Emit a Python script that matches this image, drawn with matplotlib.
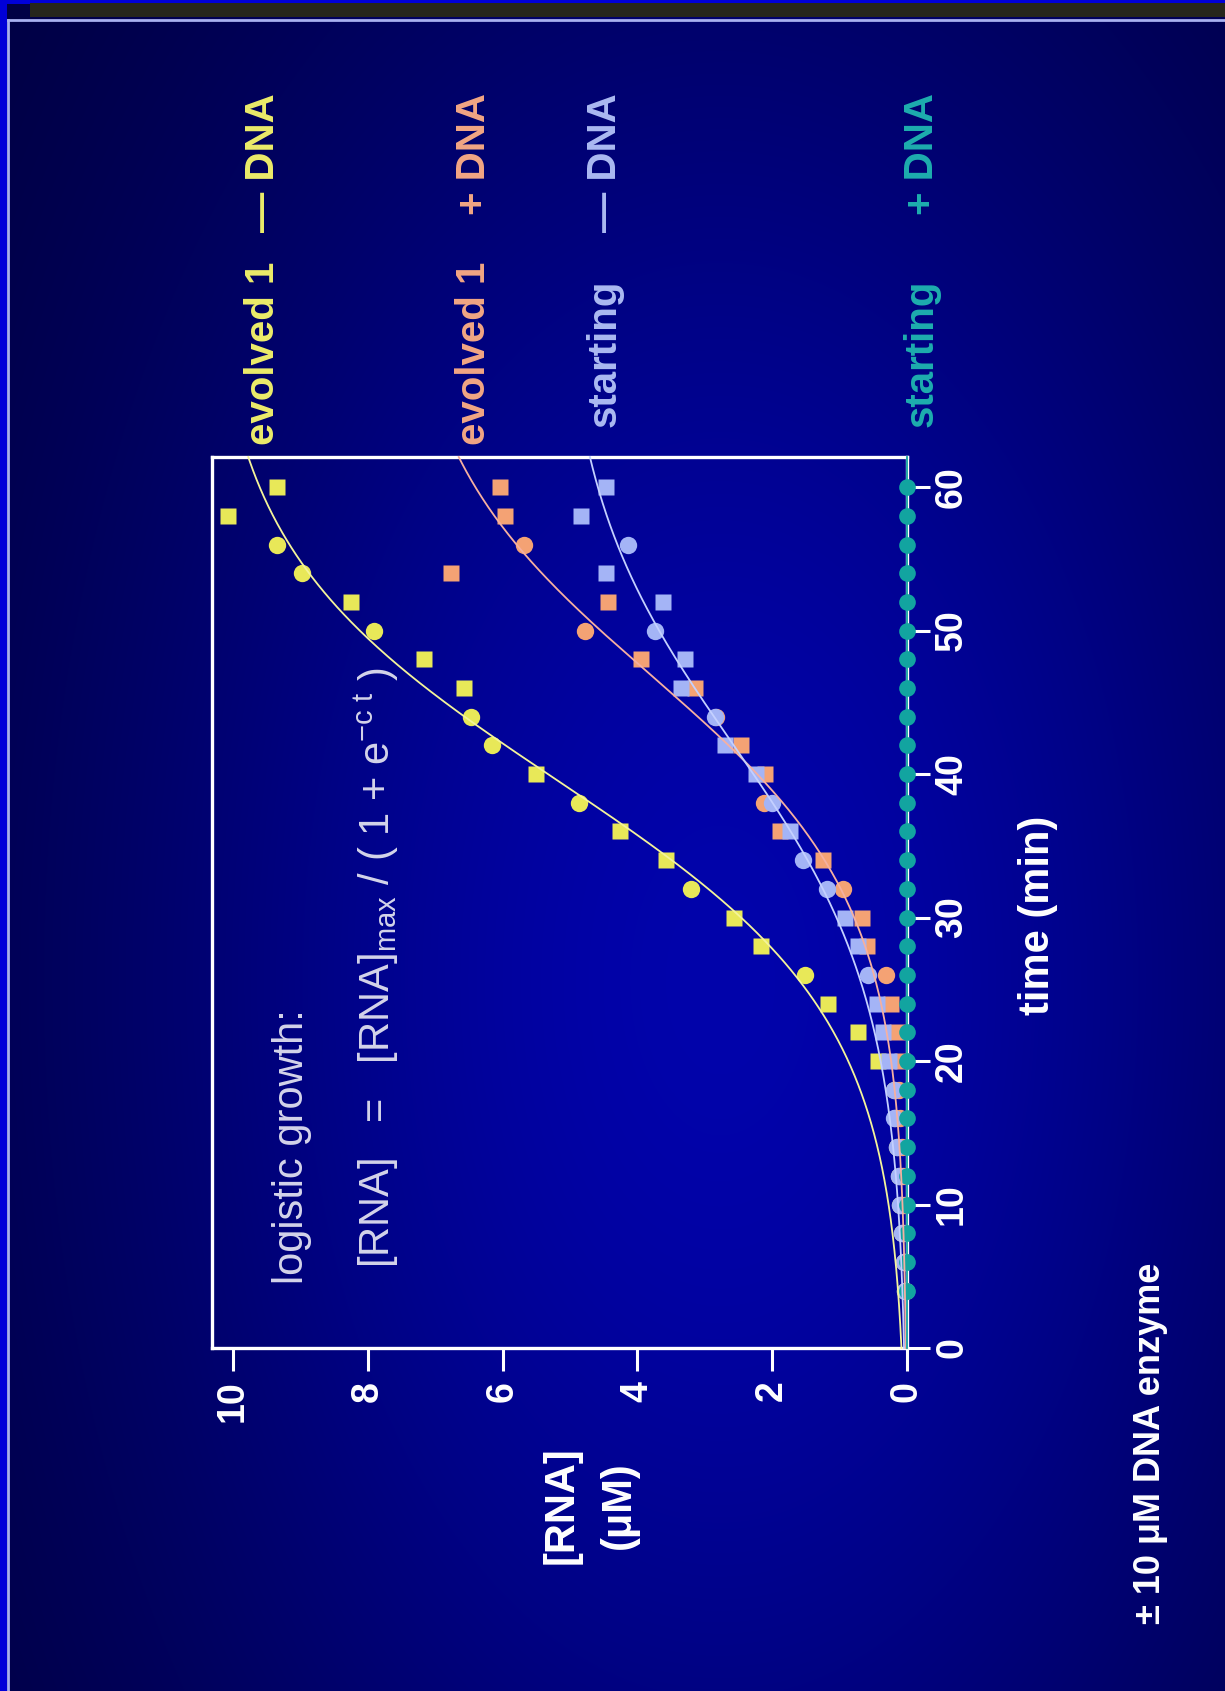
import numpy as np
import matplotlib
matplotlib.use("Agg")
import matplotlib.pyplot as plt
from matplotlib.patches import Rectangle
from matplotlib.transforms import blended_transform_factory, ScaledTranslation

W, H, DPI = 1225, 1691, 100

# ---------------- data ----------------
time_ticks = [0, 10, 20, 30, 40, 50, 60]
rna_ticks = [0, 2, 4, 6, 8, 10]

series_names = ["evolved 1", "evolved 1", "starting", "starting"]
series_signs = ["— DNA", "+ DNA", "— DNA", "+ DNA"]

# evolved 1, - DNA (yellow)
evo_minus_sq_t = [20, 22, 24, 28, 30, 34, 36, 40, 46, 48, 52, 58, 60]
evo_minus_sq_v = [0.43, 0.72, 1.17, 2.16, 2.57, 3.58, 4.26, 5.51, 6.57, 7.17, 8.25, 10.07, 9.35]
evo_minus_ci_t = [4, 6, 8, 10, 12, 14, 16, 18, 26, 32, 38, 42, 44, 50, 54, 56]
evo_minus_ci_v = [0.03, 0.05, 0.07, 0.10, 0.12, 0.15, 0.18, 0.20, 1.52, 3.21, 4.87, 6.16, 6.47, 7.90, 8.97, 9.35]

# evolved 1, + DNA (salmon)
evo_plus_sq_t = [20, 22, 24, 28, 30, 34, 36, 40, 42, 46, 48, 52, 54, 58, 60]
evo_plus_sq_v = [0.08, 0.15, 0.23, 0.60, 0.67, 1.24, 1.89, 2.10, 2.46, 3.14, 3.95, 4.43, 6.77, 5.97, 6.04]
evo_plus_ci_t = [4, 6, 8, 10, 12, 14, 16, 18, 26, 32, 38, 44, 50, 56]
evo_plus_ci_v = [0.02, 0.03, 0.04, 0.05, 0.06, 0.08, 0.10, 0.12, 0.31, 0.95, 2.12, 2.83, 4.78, 5.68]

# starting, - DNA (light blue)
start_minus_sq_t = [20, 22, 24, 28, 30, 36, 40, 42, 46, 48, 52, 54, 58, 60]
start_minus_sq_v = [0.27, 0.35, 0.45, 0.72, 0.92, 1.74, 2.24, 2.70, 3.35, 3.30, 3.62, 4.47, 4.83, 4.46]
start_minus_ci_t = [4, 6, 8, 10, 12, 14, 16, 18, 26, 32, 34, 38, 44, 50, 56]
start_minus_ci_v = [0.03, 0.05, 0.08, 0.10, 0.12, 0.15, 0.20, 0.20, 0.58, 1.19, 1.55, 2.00, 2.85, 3.74, 4.14]

# starting, + DNA (teal)
start_plus_t = [4, 6, 8, 10, 12, 14, 16, 18, 20, 22, 24, 26, 28, 30, 32, 34,
                36, 38, 40, 42, 44, 46, 48, 50, 52, 54, 56, 58, 60]
start_plus_v = [0.0] * 29

# logistic fit parameters: [RNA]max, c, midpoint
fit_rmax = [10.4, 7.6, 5.2, 0.0]
fit_c = [0.122, 0.128, 0.113, 0.1]
fit_tmid = [39.6, 46.9, 42.2, 40.0]

# ---------------- styling ----------------
plt.rcParams['font.family'] = ['Liberation Sans', 'DejaVu Sans']
plt.rcParams['mathtext.fontset'] = 'custom'
plt.rcParams['mathtext.rm'] = 'Liberation Sans'
plt.rcParams['mathtext.it'] = 'Liberation Sans'
plt.rcParams['mathtext.bf'] = 'Liberation Sans:bold'

mark_cols = ['#e8e858', '#f4a274', '#a4b4f6', '#12a4a0']
curve_cols = ['#f4f49a', '#f6b0a0', '#c4d0ff', '#12a4a0']
label_cols = ['#ecec6a', '#f2a684', '#acbaf2', '#1eaeae']

fig = plt.figure(figsize=(W / DPI, H / DPI), dpi=DPI)


def fx(px):
    return px / W


def fy(py):
    return 1 - py / H


# background gradient
bg = fig.add_axes([0, 0, 1, 1], zorder=-10)
yy, xx = np.mgrid[0:H, 0:W]
b = np.exp(-((xx - 720) / 640.0) ** 2 - ((yy - 980) / 1100.0) ** 2)
img = np.zeros((H, W, 3))
img[..., 0] = 0.005 * b
img[..., 1] = 0.012 * b
img[..., 2] = 0.21 + 0.46 * b
bg.imshow(img, extent=[0, W, H, 0], aspect='auto', interpolation='bilinear')
bg.set_xlim(0, W)
bg.set_ylim(H, 0)
bg.axis('off')
# slide frame decorations
bg.add_patch(Rectangle((0, 0), 7, H, color='#0000d8', lw=0))
bg.add_patch(Rectangle((0, 0), W, 4, color='#0000d8', lw=0))
bg.add_patch(Rectangle((30, 3), W - 30, 14, color='#26261c', lw=0))
bg.plot([8, W], [20, 20], color='#a8b0f0', lw=2.0)
bg.plot([8, 8], [20, H], color='#a8b0f0', lw=2.0)

# main (rotated) axes: x = [RNA] (reversed), y = time
ax = fig.add_axes([fx(212), fy(1348), (907 - 212) / W, (1348 - 457) / H])
ax.patch.set_alpha(0)
ax.set_xlim(10.31, 0)
ax.set_ylim(0, 62.1)
for s in ax.spines.values():
    s.set_color('white')
    s.set_linewidth(2.4)
ax.xaxis.set_ticks_position('bottom')
ax.yaxis.set_ticks_position('right')
ax.set_xticks(rna_ticks, labels=[str(v) for v in rna_ticks], rotation=90,
              fontweight='bold', fontsize=27)
ax.set_yticks(time_ticks, labels=[str(v) for v in time_ticks], rotation=90,
              va='center', fontweight='bold', fontsize=27)
ax.tick_params(axis='both', direction='out', length=16.5, width=2.2,
               colors='white')
ax.tick_params(axis='x', pad=7)
ax.tick_params(axis='y', pad=3)

# fitted logistic curves
t_fine = np.linspace(0, 62.1, 600)
for K, c, tm, col in zip(fit_rmax, fit_c, fit_tmid, curve_cols):
    ax.plot(K / (1 + np.exp(-c * (t_fine - tm))), t_fine, color=col, lw=1.3,
            zorder=4, clip_on=False)

# data points
sq_sets = [(evo_minus_sq_t, evo_minus_sq_v), (evo_plus_sq_t, evo_plus_sq_v),
           (start_minus_sq_t, start_minus_sq_v)]
ci_sets = [(evo_minus_ci_t, evo_minus_ci_v), (evo_plus_ci_t, evo_plus_ci_v),
           (start_minus_ci_t, start_minus_ci_v)]
for (ts, vs), (tc, vc), col in zip(sq_sets, ci_sets, mark_cols[:3]):
    ax.plot(vs, ts, ls='none', marker='s', ms=11, color=col, mec='none',
            zorder=3, clip_on=False)
    ax.plot(vc, tc, ls='none', marker='o', ms=12.5, color=col, mec='none',
            zorder=3, clip_on=False)
ax.plot(start_plus_v, start_plus_t, ls='none', marker='o', ms=12,
        color=mark_cols[3], mec='none', zorder=3, clip_on=False)

# series labels above the plot, next to the end value of each fitted curve
trans = blended_transform_factory(ax.transData, fig.transFigure) + \
    ScaledTranslation(15 / DPI, 0, fig.dpi_scale_trans)
t_end = ax.get_ylim()[1]
name_start = [445, 445, 427, 427]
for i in range(4):
    K, c, tm = fit_rmax[i], fit_c[i], fit_tmid[i]
    xv = K / (1 + np.exp(-c * (t_end - tm)))
    ax.text(xv, fy(name_start[i]), series_names[i], transform=trans,
            rotation=90, rotation_mode='anchor', ha='left', va='center',
            color=label_cols[i], fontsize=29, fontweight='bold', clip_on=False)
    ax.text(xv, fy(93), series_signs[i], transform=trans,
            rotation=90, rotation_mode='anchor', ha='right', va='center',
            color=label_cols[i], fontsize=29, fontweight='bold', clip_on=False)

# equation text inside plot
fig.text(fx(292), fy(1284), "logistic growth:", rotation=90,
         rotation_mode='anchor', ha='left', va='center', fontsize=30,
         color='#d4d4ea')
fig.text(fx(377), fy(1268),
         r"[RNA]   =   [RNA]$_{\mathrm{max}}$ / ( 1 + e$^{-\mathrm{c\ t}}$ )",
         rotation=90, rotation_mode='anchor', ha='left', va='center',
         fontsize=30, color='#d4d4ea')

# axis titles
fig.text(fx(1038), fy(915), "time (min)", rotation=90, ha='center',
         va='center', fontsize=30, fontweight='bold', color='white')
fig.text(fx(562), fy(1505), "[RNA]", rotation=90, ha='center', va='center',
         fontsize=30, fontweight='bold', color='white')
fig.text(fx(619), fy(1505), "(μM)", rotation=90, ha='center', va='center',
         fontsize=30, fontweight='bold', color='white')

fig.text(fx(1150), fy(1624), "± 10 μM DNA enzyme", rotation=90,
         rotation_mode='anchor', ha='left', va='center', fontsize=26,
         fontweight='bold', color='white')

fig.savefig("out.png", dpi=DPI)
